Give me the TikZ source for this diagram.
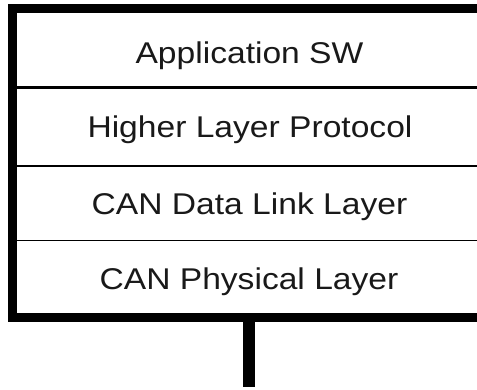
\documentclass[tikz,border=0pt]{standalone}
\usepackage{fontspec}
\setmainfont{Liberation Sans}
\begin{document}
\begin{tikzpicture}[x=1pt,y=-1pt,
  layertext/.style={font=\fontsize{30}{36}\selectfont, text=black!90, anchor=base, inner sep=0pt, xscale=1.12},
  frame/.style={line width=9pt, line join=miter, black},
  sep/.style={line width=#1, black},
  bus/.style={line width=12pt, black}]
\useasboundingbox (0,0) rectangle (477,390);
% layer texts
\node[layertext] (app) at (249.5,64)  {Application SW};
\node[layertext] (hlp) at (250,138) {Higher Layer Protocol};
\node[layertext] (dll) at (249.5,215) {CAN Data Link Layer};
\node[layertext] (phy) at (249,290) {CAN Physical Layer};
% frame corners
\coordinate (tr) at (480,9);
\coordinate (tl) at (12.5,9);
\coordinate (bl) at (12.5,317.5);
\coordinate (br) at (480,317.5);
\draw[frame] (tr) -- (tl) -- (bl) -- (br);
% separators
\coordinate (s1l) at (17,87.5);  \coordinate (s1r) at (480,87.5);
\coordinate (s2l) at (17,166);   \coordinate (s2r) at (480,166);
\coordinate (s3l) at (17,240.5); \coordinate (s3r) at (480,240.5);
\draw[sep=3.5pt] (s1l) -- (s1r);
\draw[sep=1.8pt] (s2l) -- (s2r);
\draw[sep=1.8pt] (s3l) -- (s3r);
% bus stem
\coordinate (stemtop) at (249,317.5);
\coordinate (stembot) at (249,387);
\draw[bus] (stemtop) -- (stembot);
\end{tikzpicture}
\end{document}
